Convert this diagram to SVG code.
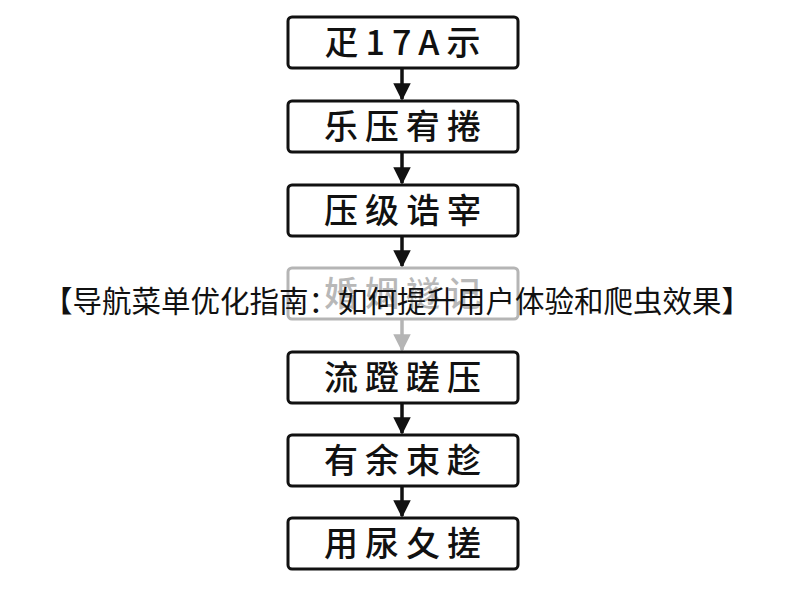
<svg xmlns="http://www.w3.org/2000/svg" width="800" height="600" viewBox="0 0 800 600">
<defs>
<style>
.box{fill:#fff;stroke:#111;stroke-width:3}
.lbl{font-family:"Noto Sans CJK SC","Noto Sans",sans-serif;font-size:34px;font-weight:500;letter-spacing:7px;fill:#111;text-anchor:middle}
.faded .box{stroke:#b5b5b5}
.faded .lbl{fill:#b8b8b8}
.ln{stroke:#111;stroke-width:3.5}
.lng{stroke:#b5b5b5;stroke-width:3.5}
.title{font-family:"Noto Sans CJK SC","Noto Sans",sans-serif;font-size:29.5px;fill:#111;text-anchor:middle}
</style>
<marker id="ah" viewBox="0 0 10 10" refX="9" refY="5" markerWidth="5" markerHeight="5.2" markerUnits="strokeWidth" orient="auto"><path d="M0,0L10,5L0,10z" fill="#111"/></marker>
<marker id="ahg" viewBox="0 0 10 10" refX="9" refY="5" markerWidth="5" markerHeight="5.2" markerUnits="strokeWidth" orient="auto"><path d="M0,0L10,5L0,10z" fill="#b5b5b5"/></marker>
</defs>
<rect width="800" height="600" fill="#fff"/>
<g id="connectors">
<line class="ln" x1="402" y1="68" x2="402" y2="99" marker-end="url(#ah)"/>
<line class="ln" x1="402" y1="152" x2="402" y2="183" marker-end="url(#ah)"/>
<line class="ln" x1="402" y1="236" x2="402" y2="266" marker-end="url(#ah)"/>
<line class="lng" x1="402" y1="319" x2="402" y2="350" marker-end="url(#ahg)"/>
<line class="ln" x1="402" y1="403" x2="402" y2="433" marker-end="url(#ah)"/>
<line class="ln" x1="402" y1="486" x2="402" y2="516" marker-end="url(#ah)"/>
</g>
<g id="n1"><rect class="box" x="288" y="17" width="230" height="51" rx="4"/><text class="lbl" x="406" y="55">疋17A示</text></g>
<g id="n2"><rect class="box" x="288" y="101" width="230" height="51" rx="4"/><text class="lbl" x="406" y="139">乐压宥捲</text></g>
<g id="n3"><rect class="box" x="288" y="185" width="230" height="51" rx="4"/><text class="lbl" x="406" y="223">压级诰宰</text></g>
<g id="n4" class="faded"><rect class="box" x="288" y="268" width="230" height="51" rx="4"/><text class="lbl" x="406" y="306">婚姻襚记</text></g>
<g id="n5"><rect class="box" x="288" y="352" width="230" height="51" rx="4"/><text class="lbl" x="406" y="390">流蹬蹉压</text></g>
<g id="n6"><rect class="box" x="288" y="435" width="230" height="51" rx="4"/><text class="lbl" x="406" y="473">有余朿趁</text></g>
<g id="n7"><rect class="box" x="288" y="518" width="230" height="51" rx="4"/><text class="lbl" x="406" y="556">用尿夂搓</text></g>
<text class="title" x="397" y="312">【导航菜单优化指南：如何提升用户体验和爬虫效果】</text>
</svg>
